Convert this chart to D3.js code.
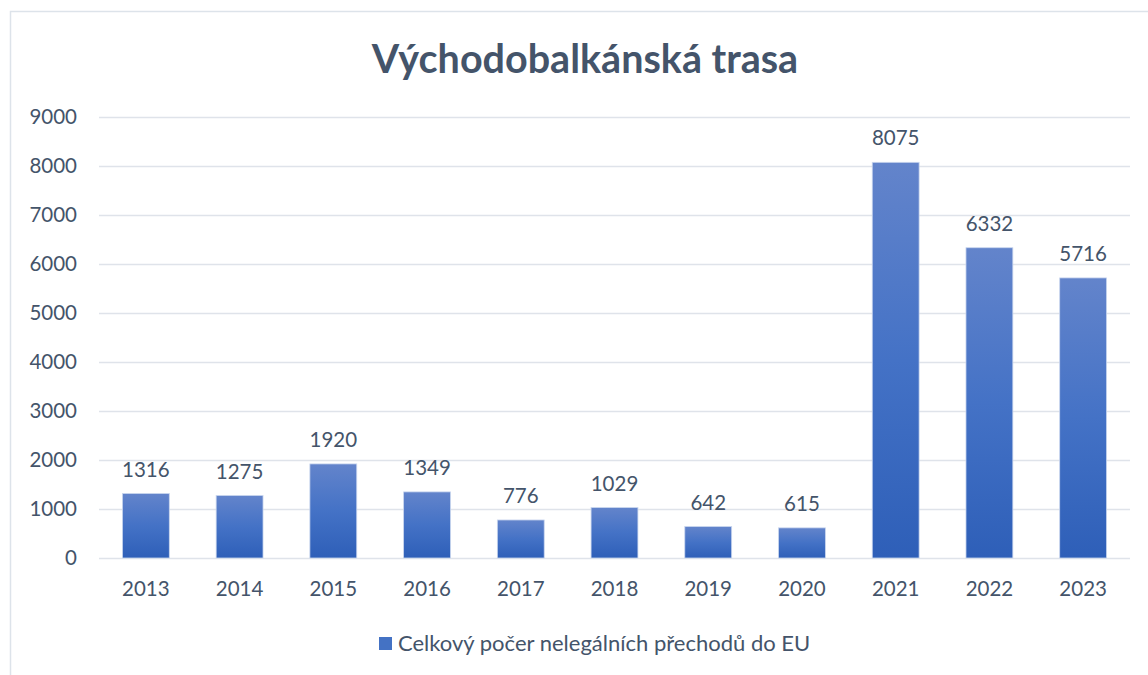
<!DOCTYPE html>
<html>
<head>
<meta charset="utf-8">
<script src="https://cdn.jsdelivr.net/npm/d3@7"></script>
<style>
  body { margin: 0; background: #fff; }
  svg text { font-family: Lato, "Open Sans", sans-serif; fill: #44546a; }
</style>
</head>
<body>
<svg id="chart-svg" width="1148" height="675"></svg>
<script>
// chart data
const years = ['2013', '2014', '2015', '2016', '2017', '2018', '2019', '2020', '2021', '2022', '2023'];
const crossings = [1316, 1275, 1920, 1349, 776, 1029, 642, 615, 8075, 6332, 5716];
const yTicks = [0, 1000, 2000, 3000, 4000, 5000, 6000, 7000, 8000, 9000];
const titleText = 'Východobalkánská trasa';
const seriesName = 'Celkový počer nelegálních přechodů do EU';

const svg = d3.select('#chart-svg');

// chart frame (only top and left edges show in the crop)
svg.append('path')
	.attr('d', 'M10.5,1000 V11.5 H1148')
	.attr('fill', 'none')
	.attr('stroke', '#dde3ea')
	.attr('stroke-width', 1.5);

const x = d3.scaleBand().domain(years).range([99, 1130]).paddingInner(0.5).paddingOuter(0.25);
const y = d3.scaleLinear().domain([0, 9000]).range([558, 117]);

// gradient for bars
const defs = svg.append('defs');
const grad = defs.append('linearGradient').attr('id', 'barGrad').attr('x1', 0).attr('y1', 0).attr('x2', 0).attr('y2', 1);
grad.append('stop').attr('offset', '0%').attr('stop-color', '#6384cb');
grad.append('stop').attr('offset', '50%').attr('stop-color', '#4472c6');
grad.append('stop').attr('offset', '100%').attr('stop-color', '#2e5fb8');

// gridlines
svg.append('g')
	.selectAll('line')
	.data(yTicks)
	.enter()
	.append('line')
	.attr('x1', 99)
	.attr('x2', 1130)
	.attr('y1', (d) => y(d) + 0.5)
	.attr('y2', (d) => y(d) + 0.5)
	.attr('stroke', '#dfe3ea')
	.attr('stroke-width', 1.5);

// y axis labels
const yAxis = d3.axisLeft(y).tickValues(yTicks).tickSize(0).tickPadding(0).tickFormat(d3.format('d'));
const yG = svg.append('g').attr('transform', 'translate(77,0)').call(yAxis);
yG.select('.domain').remove();
yG.selectAll('text').style('font-size', '20.5px').attr('fill', '#44546a');

// x axis labels
const xAxis = d3.axisBottom(x).tickSize(0).tickPadding(0);
const xG = svg.append('g').attr('transform', 'translate(0,581)').call(xAxis);
xG.select('.domain').remove();
xG.selectAll('text').style('font-size', '20.5px').attr('fill', '#44546a');

// bars
const data = years.map((yr, i) => ({ year: yr, value: crossings[i] }));
svg.append('g')
	.selectAll('rect')
	.data(data)
	.enter()
	.append('rect')
	.attr('x', (d) => x(d.year))
	.attr('y', (d) => y(d.value))
	.attr('width', x.bandwidth())
	.attr('height', (d) => y(0) - y(d.value))
	.attr('fill', 'url(#barGrad)')
	.attr('stroke', '#c9d6ee')
	.attr('stroke-width', 0.8);

// value labels
svg.append('g')
	.selectAll('text')
	.data(data)
	.enter()
	.append('text')
	.attr('x', (d) => x(d.year) + x.bandwidth() / 2)
	.attr('y', (d) => y(d.value) - 17)
	.attr('text-anchor', 'middle')
	.style('font-size', '20.5px')
	.text((d) => d.value);

// title
svg.append('text')
	.attr('x', 585)
	.attr('y', 73)
	.attr('text-anchor', 'middle')
	.style('font-size', '39.5px')
	.style('font-weight', 'bold')
	.text(titleText);

// legend
const legendG = svg.append('g').attr('transform', 'translate(379,637)');
legendG.append('rect').attr('width', 13).attr('height', 13).attr('fill', '#4472c4');
legendG.append('text')
	.attr('x', 19)
	.attr('y', 14)
	.style('font-size', '22px')
	.text(seriesName);
</script>
</body>
</html>
